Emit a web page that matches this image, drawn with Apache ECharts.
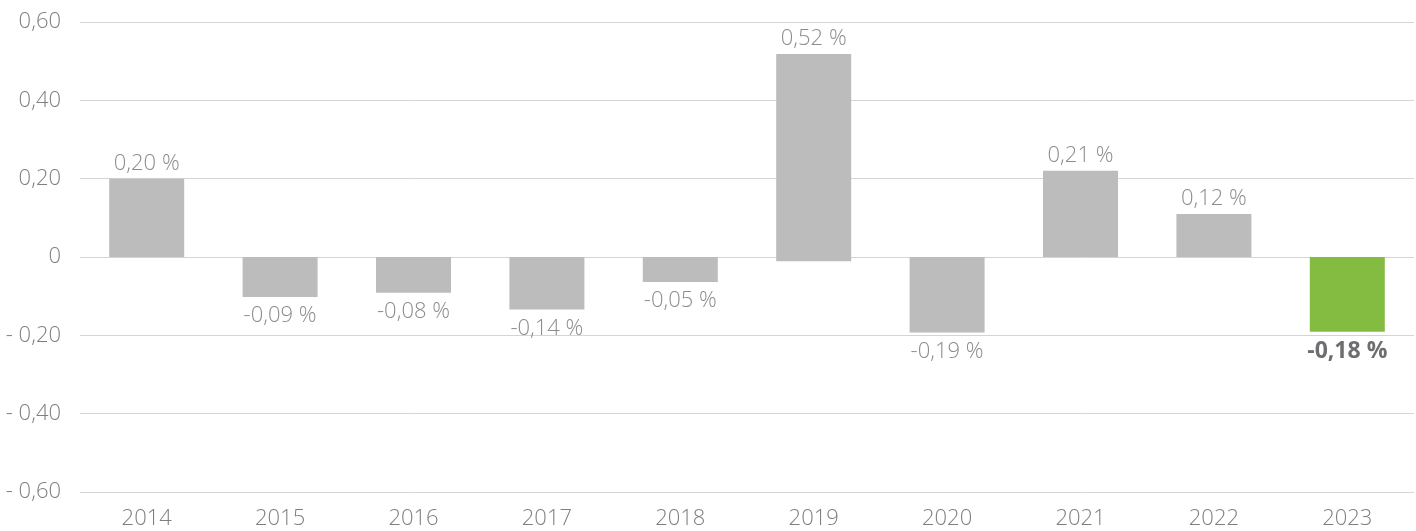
<!DOCTYPE html>
<html>
<head>
<meta charset="utf-8">
<script src="https://cdn.jsdelivr.net/npm/echarts@6/dist/echarts.min.js"></script>
<style>
html,body{margin:0;padding:0;background:#fff;}
#c{width:1416px;height:531px;}
</style>
</head>
<body>
<div id="c"></div>
<script>
// Categories (years)
var years = ['2014','2015','2016','2017','2018','2019','2020','2021','2022','2023'];
// Bar heights
var barValues = [0.20, -0.102, -0.091, -0.134, -0.064, 0.518, -0.193, 0.22, 0.11, -0.191];
// Small below-zero extension of the 2019 bar
var barBase = ['-', '-', '-', '-', '-', -0.011, '-', '-', '-', '-'];
// Printed data labels (%)
var labelValues = [0.20, -0.09, -0.08, -0.14, -0.05, 0.52, -0.19, 0.21, 0.12, -0.18];
// Y-axis tick values
var yTicks = [-0.6, -0.4, -0.2, 0, 0.2, 0.4, 0.6];

var GRAY = '#bbbcbb';
var GREEN = '#84bb41';
var FONT = '"Open Sans", "Noto Sans", sans-serif';

function fmt(v){
  return Math.abs(v).toFixed(2).replace('.', ',');
}

var mainData = barValues.map(function(v, i){
  var last = i === years.length - 1;
  return {
    value: v,
    itemStyle: { color: last ? GREEN : GRAY },
    label: {
      show: true,
      position: v >= 0 ? 'top' : 'bottom',
      distance: v >= 0 ? 4 : 8,
      formatter: (labelValues[i] < 0 ? '-' : '') + fmt(labelValues[i]) + ' %',
      color: last ? '#6d6e71' : '#8c8c8c',
      fontWeight: last ? 'bold' : 300,
      fontSize: last ? 23 : 22,
      fontFamily: FONT
    }
  };
});

var chart = echarts.init(document.getElementById('c'));
chart.setOption({
  animation: false,
  grid: { left: 80, right: 2, top: 22, bottom: 39, containLabel: false },
  xAxis: {
    type: 'category',
    data: years,
    axisLine: { show: false, onZero: false },
    axisTick: { show: false },
    axisLabel: { color: '#7f7f7f', fontSize: 22, fontWeight: 300, fontFamily: FONT, margin: 16 }
  },
  yAxis: {
    type: 'value',
    min: yTicks[0],
    max: yTicks[yTicks.length - 1],
    interval: 0.2,
    axisLine: { show: false },
    axisTick: { show: false },
    splitLine: { lineStyle: { color: '#d4d4d4', width: 1 } },
    axisLabel: {
      color: '#7f7f7f', fontSize: 22, fontWeight: 300, fontFamily: FONT, margin: 19,
      formatter: function(v){
        if (Math.abs(v) < 1e-9) return '0';
        return (v < 0 ? '- ' : '') + fmt(v);
      }
    }
  },
  series: [
    {
      type: 'bar',
      stack: 'a',
      barWidth: 75,
      data: mainData
    },
    {
      type: 'bar',
      stack: 'a',
      barWidth: 75,
      itemStyle: { color: GRAY },
      data: barBase
    }
  ]
});
</script>
</body>
</html>
